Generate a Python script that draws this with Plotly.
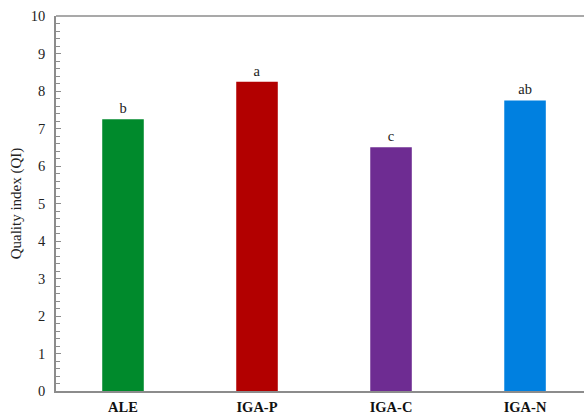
import plotly.graph_objects as go

groups = ["ALE", "IGA-P", "IGA-C", "IGA-N"]
qi_values = [7.25, 8.25, 6.5, 7.75]
letters = ["b", "a", "c", "ab"]
bar_colors = ["#008a2c", "#b20000", "#6e2c92", "#0080e0"]

serif = "Liberation Serif"
axis_grey = "#8c8c8c"

fig = go.Figure()
fig.add_trace(go.Bar(
    x=groups,
    y=qi_values,
    width=0.31,
    marker=dict(color=bar_colors, line=dict(width=0)),
    text=letters,
    textposition="outside",
    constraintext="none",
    cliponaxis=False,
    textfont=dict(family=serif, size=14.5, color="#222"),
))

fig.update_layout(
    template="none",
    width=584,
    height=415,
    margin=dict(l=56, r=0, t=16, b=24),
    plot_bgcolor="white",
    paper_bgcolor="white",
    showlegend=False,
    font=dict(family=serif, color="#222", size=14),
)
fig.update_xaxes(
    range=[-0.5, 3.44],
    showline=True,
    linecolor=axis_grey,
    linewidth=1.5,
    mirror=False,
    ticks="",
    showgrid=False,
    zeroline=False,
    automargin=False,
    ticklabelstandoff=2,
    tickfont=dict(family=serif, size=14.5, color="#111", weight="bold"),
)
fig.update_yaxes(
    range=[0, 10],
    dtick=1,
    showline=True,
    linecolor=axis_grey,
    linewidth=1.5,
    mirror=False,
    ticks="inside",
    ticklen=5,
    tickcolor=axis_grey,
    showgrid=False,
    zeroline=False,
    automargin=False,
    minor=dict(dtick=0.2, ticks="inside", ticklen=4, tickcolor=axis_grey, showgrid=False),
    ticklabelstandoff=6,
    tickfont=dict(family=serif, size=14.5, color="#222"),
    title=dict(text="Quality index (QI)", font=dict(family=serif, size=15, color="#222"), standoff=6),
)

# keep the right side of the frame open (the plot continues past the page edge)
fig.add_shape(type="rect", xref="paper", yref="paper", x0=0.994, x1=1.0, y0=0.004, y1=0.996,
              line=dict(width=0), fillcolor="white", layer="above")

# top frame line across the plotting area
fig.add_shape(type="line", xref="paper", yref="paper", x0=0, x1=1, y0=1, y1=1,
              line=dict(color=axis_grey, width=1.5))

fig.write_html("out.html")
